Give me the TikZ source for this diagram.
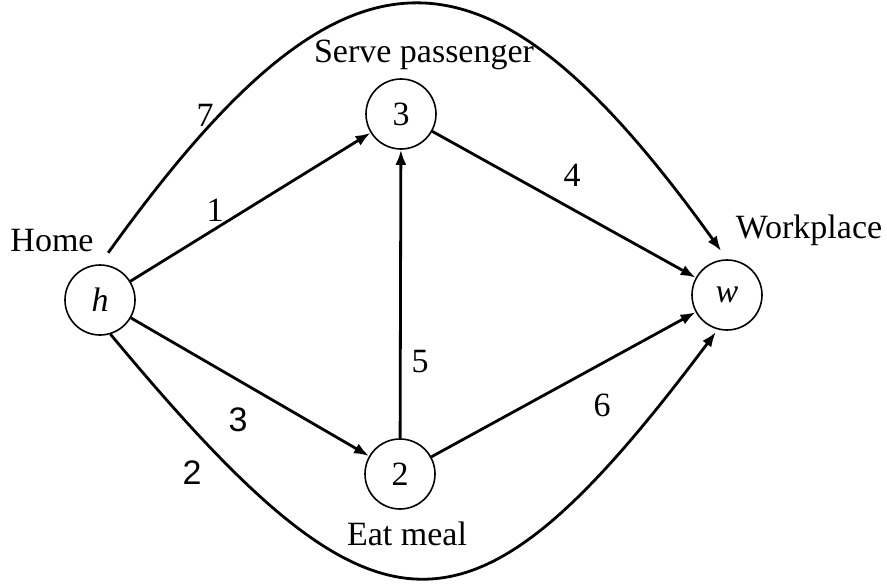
\documentclass[tikz,border=0pt]{standalone}
\usepackage{fontspec}
\setmainfont{Liberation Serif}
\newfontfamily\labelsans{Liberation Sans}
\usetikzlibrary{arrows.meta}

\tikzset{
  place/.style={draw, circle, line width=1.6pt, minimum size=70pt, inner sep=0pt},
  link/.style={line width=2.8pt, -{Latex[length=15pt,width=11pt]}},
  cost/.style={inner sep=0pt}
}

\begin{document}
\begin{tikzpicture}[x=1pt, y=-1pt, font=\fontsize{34}{40}\selectfont]
        \useasboundingbox (0,0) rectangle (887,586);
        % places
        \node[place] (h) at (100,300) {\textit{h}};
        \node[place] (s) at (401,114) {3};
        \node[place] (e) at (400,474) {2};
        \node[place] (w) at (727,295) {\textit{w}};
        % names of the places
        \node[anchor=base] (homename) at (52,251) {Home};
        \node[anchor=base] (servename) at (424,63) {Serve passenger};
        \node[anchor=base] (workname) at (809,238) {Workplace};
        \node[anchor=base] (eatname) at (407,545) {Eat meal};
        % straight links
        \draw[link] (h) -- (s);
        \draw[link] (h) -- (e);
        \draw[link] (e) -- (s);
        \draw[link] (s) -- (w);
        \draw[link] (e) -- (w);
        % curved links
        \draw[link, shorten <=14pt, shorten >=10pt] (h.north) .. controls +(244,-340) and +(-244,-340) .. (w.north);
        \draw[link, shorten >=3pt] (h.287) .. controls +(267,321) and +(-250,334) .. (w.255);
        % costs
        \node[cost] (c7) at (205,115) {7};
        \node[cost] (c1) at (215,210) {1};
        \node[cost] (c4) at (572,175) {4};
        \node[cost] (c5) at (420,362) {5};
        \node[cost] (c6) at (602,405) {6};
        \node[cost] (c3) at (238,420) {\labelsans 3};
        \node[cost] (c2) at (192,473) {\labelsans 2};
    \end{tikzpicture}
\end{document}
